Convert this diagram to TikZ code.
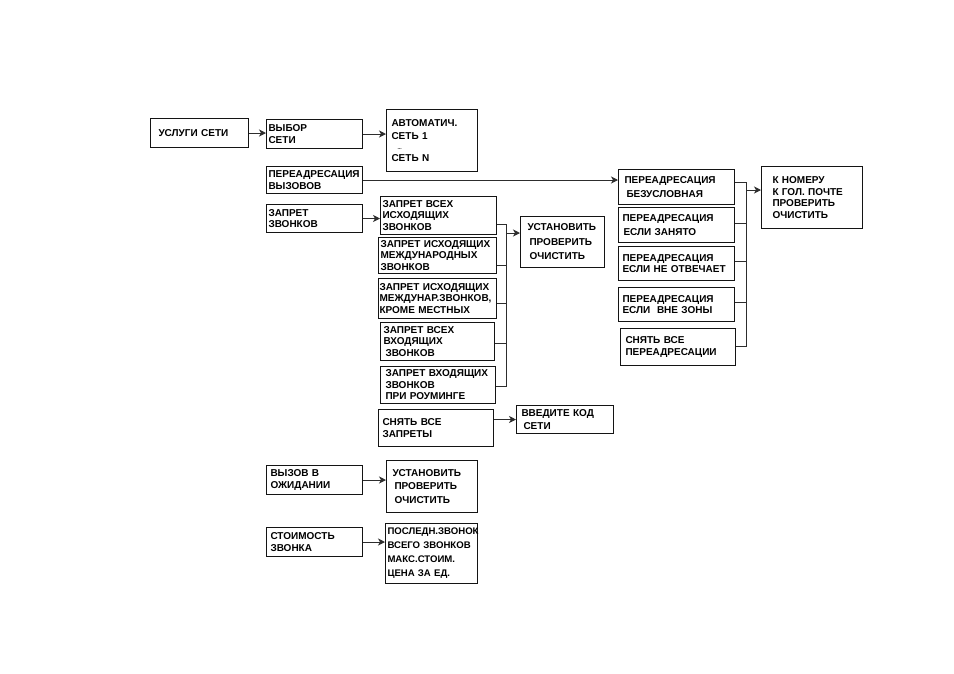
\documentclass[tikz,border=0pt]{standalone}
\usepackage{fontspec}
\setmainfont{Liberation Sans}
\usepackage{tikz}
\usetikzlibrary{arrows.meta,positioning,calc}
\definecolor{ink}{RGB}{20,20,20}
\definecolor{wire}{RGB}{45,45,45}
\tikzset{
  box/.style={draw=ink,line width=1pt,anchor=north west,inner xsep=2pt,inner ysep=0pt,
    align=left,font=\fontsize{10}{11.5}\selectfont\bfseries},
  sz/.style 2 args={minimum width=#1pt,minimum height=#2pt,text width=#1pt-4pt},
  ln/.style={draw=wire,line width=0.9pt},
  ar/.style={ln,-{Stealth[length=7pt,width=7pt,inset=2pt]}},
}

\begin{document}
\begin{tikzpicture}[x=1pt,y=-1pt]
  \useasboundingbox (0,0) rectangle (954,673);

  % left column
  \node[box,sz={98}{29}] (svc) at (150,118) {\hspace*{6pt}УСЛУГИ~СЕТИ};
  \node[box,sz={96}{29}] (net) at (266,119) {ВЫБОР\\СЕТИ};
  \node[box,sz={96}{27}] (fwd) at (266,166) {ПЕРЕАДРЕСАЦИЯ\\ВЫЗОВОВ};
  \node[box,sz={96}{28}] (bar) at (266,204) {ЗАПРЕТ\\ЗВОНКОВ};
  \node[box,sz={96}{29}] (wait) at (266,465) {\hspace*{2pt}ВЫЗОВ~В\\\hspace*{2pt}ОЖИДАНИИ};
  \node[box,sz={96}{29}] (cost) at (266,527) {\hspace*{2pt}СТОИМОСТЬ\\\hspace*{2pt}ЗВОНКА};

  % networks
  \node[box,sz={91}{62}] (auto) at (386,109)
    {\hspace*{3pt}АВТОМАТИЧ.\\[2pt]\hspace*{3pt}СЕТЬ~1\\[-2pt]\hspace*{9pt}{\fontsize{5}{5}\selectfont ...}\\[1pt]\hspace*{3pt}СЕТЬ~N};

  % call barring
  \node[box,sz={116}{38}] (bar1) at (380,196) {ЗАПРЕТ~ВСЕХ\\ИСХОДЯЩИХ\\ЗВОНКОВ};
  \node[box,sz={118}{36}] (bar2) at (378,237) {ЗАПРЕТ~ИСХОДЯЩИХ\\МЕЖДУНАРОДНЫХ\\ЗВОНКОВ};
  \node[box,sz={118}{40}] (bar3) at (378,278) {\hspace*{-1pt}ЗАПРЕТ~ИСХОДЯЩИХ\\\hspace*{-1pt}МЕЖДУНАР.ЗВОНКОВ,\\\hspace*{-1pt}КРОМЕ~МЕСТНЫХ};
  \node[box,sz={114}{38}] (bar4) at (380,322) {\hspace*{1pt}ЗАПРЕТ~ВСЕХ\\\hspace*{1pt}ВХОДЯЩИХ\\\hspace*{3pt}ЗВОНКОВ};
  \node[box,sz={115}{37}] (bar5) at (380,366) {\hspace*{3pt}ЗАПРЕТ~ВХОДЯЩИХ\\\hspace*{3pt}ЗВОНКОВ\\\hspace*{3pt}ПРИ~РОУМИНГЕ};
  \node[box,sz={115}{37}] (clr) at (378,409) {\hspace*{2pt}СНЯТЬ~ВСЕ\\[1pt]\hspace*{2pt}ЗАПРЕТЫ};
  \node[box,sz={84}{51}] (set1) at (520,216) {\hspace*{5pt}УСТАНОВИТЬ\\[3pt]\hspace*{7pt}ПРОВЕРИТЬ\\[3pt]\hspace*{7pt}ОЧИСТИТЬ};
  \node[box,sz={97}{28}] (code) at (516,405) {\hspace*{3pt}ВВЕДИТЕ~КОД\\[1pt]\hspace*{5pt}СЕТИ};

  % waiting call, cost
  \node[box,sz={91}{52}] (set2) at (386,460) {\hspace*{4pt}УСТАНОВИТЬ\\[2pt]\hspace*{6pt}ПРОВЕРИТЬ\\[2pt]\hspace*{6pt}ОЧИСТИТЬ};
  \node[box,sz={92}{60},font=\fontsize{9.6}{11.5}\selectfont\bfseries] (stat) at (385,523)
    {ПОСЛЕДН.ЗВОНОК\\[2.5pt]ВСЕГО~ЗВОНКОВ\\[2.5pt]МАКС.СТОИМ.\\[2.5pt]ЦЕНА~ЗА~ЕД.};

  % call forwarding
  \node[box,sz={116}{35}] (fw1) at (618,169) {\hspace*{4pt}ПЕРЕАДРЕСАЦИЯ\\[2.5pt]\hspace*{6pt}БЕЗУСЛОВНАЯ};
  \node[box,sz={116}{35}] (fw2) at (618,207) {\hspace*{2pt}ПЕРЕАДРЕСАЦИЯ\\[2.5pt]\hspace*{3pt}ЕСЛИ~ЗАНЯТО};
  \node[box,sz={116}{34}] (fw3) at (618,246) {\hspace*{2pt}ПЕРЕАДРЕСАЦИЯ\\\hspace*{2pt}ЕСЛИ~НЕ~ОТВЕЧАЕТ};
  \node[box,sz={116}{34}] (fw4) at (618,287) {\hspace*{2pt}ПЕРЕАДРЕСАЦИЯ\\\hspace*{2pt}ЕСЛИ~\ ВНЕ~ЗОНЫ};
  \node[box,sz={115}{37}] (fw5) at (620,328) {\hspace*{3pt}СНЯТЬ~ВСЕ\\\hspace*{3pt}ПЕРЕАДРЕСАЦИИ};
  \node[box,sz={101}{62}] (num) at (761,166) {\hspace*{9pt}К~НОМЕРУ\\\hspace*{9pt}К~ГОЛ.~ПОЧТЕ\\\hspace*{9pt}ПРОВЕРИТЬ\\\hspace*{9pt}ОЧИСТИТЬ};

  % arrows
  \draw[ar] (svc.east) -- (svc.east -| net.west);
  \draw[ar] (net.east) -- (net.east -| auto.west);
  \draw[ar] (fwd.east) -- (fwd.east -| fw1.west);
  \draw[ar] (bar.east) -- (bar.east -| bar1.west);
  \draw[ar] (code.west -| clr.east) -- (code.west);
  \draw[ar] (wait.east) -- (wait.east -| set2.west);
  \draw[ar] (cost.east) -- (cost.east -| stat.west);

  % barring bus
  \coordinate (bt) at (506,224);
  \coordinate (bb) at (506,386);
  \draw[ln] (bar1.east |- bt) -- (bt) -- (bb) -- (bar5.east |- bb);
  \foreach \b/\y in {bar2/265,bar3/303,bar4/343}
    \draw[ln] (\b.east |- 0,\y) -- (bt |- 0,\y);
  \draw[ar] (bt |- 0,233) -- (set1.west |- 0,233);

  % forwarding bus
  \coordinate (ft) at (746,182);
  \coordinate (fb) at (746,346);
  \draw[ln] (fw1.east |- ft) -- (ft) -- (fb) -- (fw5.east |- fb);
  \foreach \b/\y in {fw2/223,fw3/261,fw4/302}
    \draw[ln] (\b.east |- 0,\y) -- (ft |- 0,\y);
  \draw[ar] (ft |- 0,190) -- (num.west |- 0,190);
\end{tikzpicture}
\end{document}
